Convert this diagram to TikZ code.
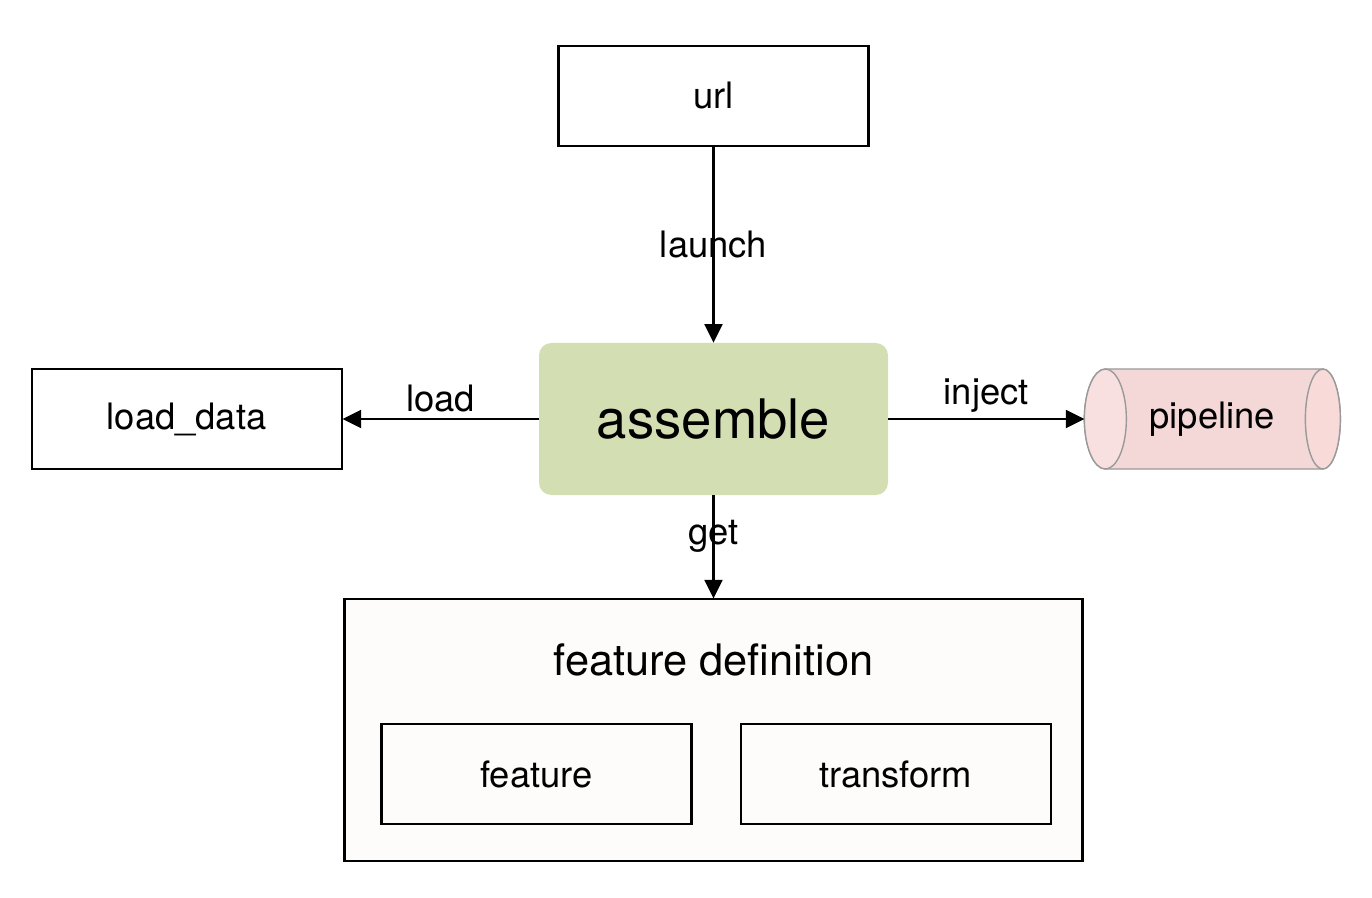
\documentclass[tikz,border=0pt]{standalone}
\usepackage{fontspec}
\setmainfont{TeX Gyre Heros}
\usepackage{xcolor}
\usetikzlibrary{arrows.meta,positioning,backgrounds}
\definecolor{assemblegreen}{RGB}{211,222,178}
\definecolor{defwhite}{RGB}{253,252,250}
\definecolor{tankbody}{RGB}{244,216,216}
\definecolor{tankcap}{RGB}{249,224,224}
\definecolor{tankend}{RGB}{248,218,217}
\definecolor{tankgray}{RGB}{154,154,154}

\begin{document}
\begin{tikzpicture}[
    font=\fontsize{20.7}{25}\selectfont,
    box/.style={draw=black, line width=1.2pt, minimum width=6.2cm,
      minimum height=2.0cm, align=center},
    core/.style={fill=assemblegreen, rounded corners=7pt, minimum width=6.98cm,
      minimum height=3.04cm, font=\fontsize{31}{37}\selectfont},
    arrow/.style={-{Triangle[length=3.7mm,width=3.6mm]}, line width=1.2pt},
    tank/.style={draw=tankgray, line width=0.8pt}
  ]
    \useasboundingbox (0,0) rectangle (27.44,-17.96);
    \node[core] (assemble) at (14.27,-8.38) {assemble};
    \node[box, above=3.92cm of assemble] (url) {url};
    \node[box, left=3.92cm of assemble] (load) {load\_data};
    \node[minimum width=5.12cm, minimum height=2.0cm, outer sep=0pt,
      right=3.92cm of assemble] (pipeline) {pipeline};
    \node[box, fill=defwhite, minimum width=14.76cm, minimum height=5.24cm,
      below=2.06cm of assemble] (featdef) {};
    \node[font=\fontsize{24.7}{30}\selectfont] (deftitle)
      at ([yshift=-1.24cm]featdef.north) {feature definition};
    \node[box, above right=0.74cm and 0.74cm of featdef.south west] (feature) {feature};
    \node[box, right=0.94cm of feature] (transform) {transform};
    % cylinder behind the pipeline text
    \begin{scope}[on background layer]
      \filldraw[tank, fill=tankbody] ([xshift=4.2mm]pipeline.north west)
        -- ([xshift=-3.5mm]pipeline.north east)
        arc[start angle=90, end angle=-90, x radius=3.5mm, y radius=1cm]
        -- ([xshift=4.2mm]pipeline.south west)
        arc[start angle=270, end angle=90, x radius=4.2mm, y radius=1cm] -- cycle;
      \filldraw[tank, fill=tankend] ([xshift=-3.5mm]pipeline.east)
        ellipse[x radius=3.5mm, y radius=1cm];
      \filldraw[tank, fill=tankcap] ([xshift=4.2mm]pipeline.west)
        ellipse[x radius=4.2mm, y radius=1cm];
    \end{scope}
    \draw[arrow] (url) -- node[midway] {launch} (assemble);
    \draw[arrow] (assemble) -- node[above] {load} (load);
    \draw[arrow] (assemble) -- node[above] {inject} (pipeline);
    \draw[arrow] (assemble) -- node[pos=0.4] {get} (featdef);
  \end{tikzpicture}
\end{document}
